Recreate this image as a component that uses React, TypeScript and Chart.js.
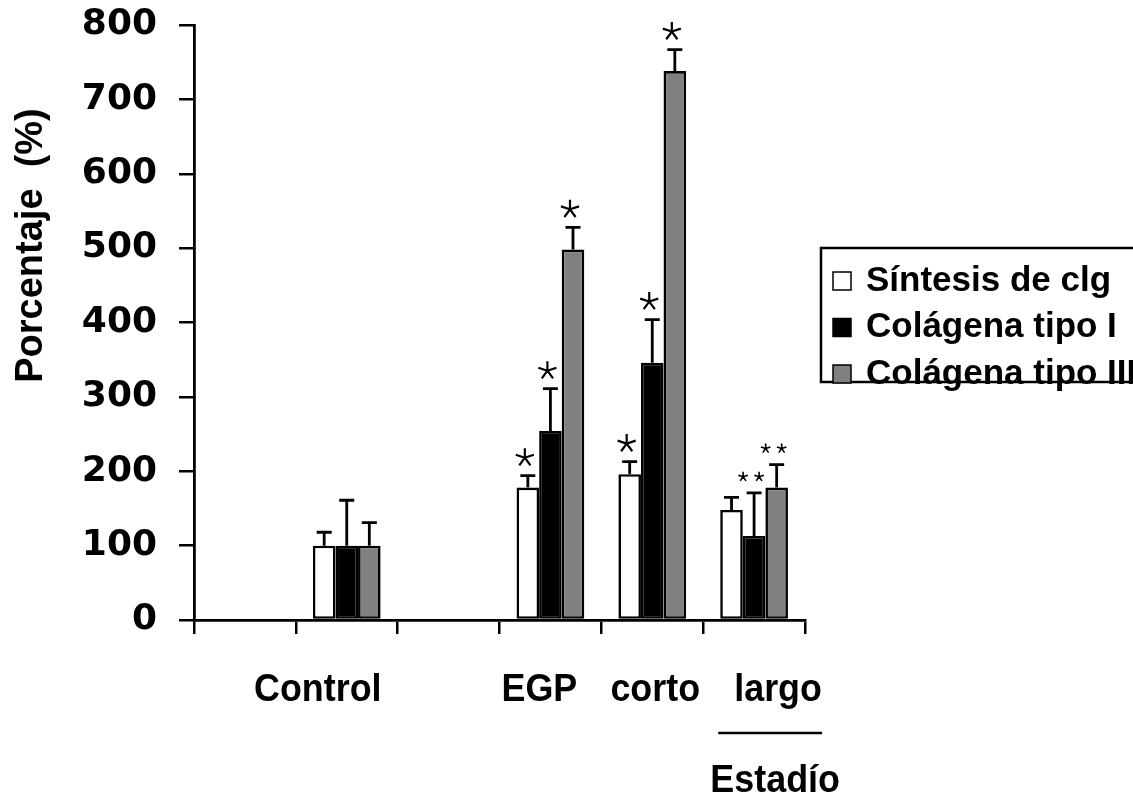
import React, { useEffect, useRef } from "react";
import { Chart, registerables } from "chart.js";

Chart.register(...registerables);

// Groups along the x axis (empty slots keep the spacing of the original layout)
const categories = ["", "Control", "", "EGP", "corto", "largo"];

// Mean values (%) per series
const sintesis = [null, 100, null, 178, 196, 148];
const tipoI = [null, 100, null, 254, 346, 113];
const tipoIII = [null, 100, null, 498, 738, 178];

// Upper error (%) per series
const errSintesis = [null, 18, null, 16, 17, 17];
const errTipoI = [null, 61, null, 57, 58, 58];
const errTipoIII = [null, 31, null, 30, 29, 31];

// Significance marks per series
const sigSintesis = ["", "", "", "*", "*", ""];
const sigTipoI = ["", "", "", "*", "*", "**"];
const sigTipoIII = ["", "", "", "*", "*", "**"];

const seriesNames = ["Síntesis de clg", "Colágena tipo I", "Colágena tipo III"];
const yTicks = [0, 100, 200, 300, 400, 500, 600, 700, 800];

const W = 1133;
const H = 801;
const FILLS = ["#ffffff", "#000000", "#808080"];
const LABEL_FONT = "bold 39px 'Liberation Sans', Arial, sans-serif";
const LABEL_SQUEEZE = 0.92; // slightly condensed axis captions
// horizontal nudges for the group labels under the axis
const labelShift = [0, -29, 0, -11, 3, 24];

function drawAsterisk(ctx: CanvasRenderingContext2D, cx: number, cy: number, r: number, lw: number) {
  ctx.save();
  ctx.strokeStyle = "#000";
  ctx.lineWidth = lw;
  ctx.lineCap = "butt";
  ctx.beginPath();
  for (let k = 0; k < 5; k++) {
    const a = -Math.PI / 2 + (k * 2 * Math.PI) / 5;
    ctx.moveTo(cx, cy);
    ctx.lineTo(cx + r * Math.cos(a), cy + r * Math.sin(a));
  }
  ctx.stroke();
  ctx.restore();
}

function squeezedText(ctx: CanvasRenderingContext2D, text: string, cx: number, cy: number) {
  ctx.save();
  ctx.translate(cx, cy);
  ctx.scale(LABEL_SQUEEZE, 1);
  ctx.font = LABEL_FONT;
  ctx.fillStyle = "#000";
  ctx.textAlign = "center";
  ctx.textBaseline = "middle";
  ctx.fillText(text, 0, 0);
  ctx.restore();
}

const overlayPlugin = {
  id: "overlay",
  afterDatasetsDraw(chart: any) {
    const ctx: CanvasRenderingContext2D = chart.ctx;
    const y = chart.scales.y;
    const x = chart.scales.x;
    const errs = [errSintesis, errTipoI, errTipoIII];
    const sigs = [sigSintesis, sigTipoI, sigTipoIII];

    // error bars (upper only) and significance marks
    chart.data.datasets.forEach((ds: any, i: number) => {
      const meta = chart.getDatasetMeta(i);
      ds.data.forEach((v: number | null, j: number) => {
        if (v == null) return;
        const bar = meta.data[j];
        const e = errs[i][j] || 0;
        const top = y.getPixelForValue(v + e);
        ctx.save();
        ctx.strokeStyle = "#000";
        ctx.lineWidth = 2.8;
        ctx.beginPath();
        ctx.moveTo(bar.x, bar.y);
        ctx.lineTo(bar.x, top);
        ctx.moveTo(bar.x - 7.5, top);
        ctx.lineTo(bar.x + 7.5, top);
        ctx.stroke();
        ctx.restore();

        const s = sigs[i][j];
        if (s === "*") {
          drawAsterisk(ctx, bar.x - 3, top - 18, 9.5, 2.2);
        } else if (s === "**") {
          drawAsterisk(ctx, bar.x - 11, top - 16, 5, 1.6);
          drawAsterisk(ctx, bar.x + 5, top - 16, 5, 1.6);
        }
      });
    });

    // group labels
    categories.forEach((c, j) => {
      if (!c) return;
      squeezedText(ctx, c, x.getPixelForValue(j) + labelShift[j], 690);
    });

    // bracket under the stage groups
    const x0 = x.getPixelForValue(4) + 66;
    const x1 = x.getPixelForValue(5) + 68;
    ctx.save();
    ctx.strokeStyle = "#000";
    ctx.lineWidth = 2.5;
    ctx.beginPath();
    ctx.moveTo(x0, 733);
    ctx.lineTo(x1, 733);
    ctx.stroke();
    ctx.restore();
    squeezedText(ctx, "Estadío", (x0 + x1) / 2 + 5, 781);

    // y axis title
    ctx.save();
    ctx.fillStyle = "#000";
    ctx.textAlign = "center";
    ctx.textBaseline = "middle";
    ctx.translate(32, (chart.chartArea.top + chart.chartArea.bottom) / 2 - 77);
    ctx.rotate(-Math.PI / 2);
    ctx.font = "bold 38px 'Liberation Sans', Arial, sans-serif";
    ctx.fillText("Porcentaje  (%)", 0, 0);
    ctx.restore();

    // legend
    ctx.save();
    ctx.strokeStyle = "#000";
    ctx.lineWidth = 2.5;
    ctx.strokeRect(821, 248, 330, 134);
    ctx.font = "bold 35px 'Liberation Sans', Arial, sans-serif";
    ctx.textAlign = "left";
    ctx.textBaseline = "middle";
    seriesNames.forEach((name, i) => {
      const cy = 281 + i * 46.5;
      ctx.fillStyle = FILLS[i];
      ctx.fillRect(833, cy - 9, 18, 18);
      ctx.lineWidth = 1.5;
      ctx.strokeRect(833, cy - 9, 18, 18);
      ctx.fillStyle = "#000";
      ctx.fillText(name, 866, cy);
    });
    ctx.restore();
  },
};

export default function App() {
  const ref = useRef<HTMLCanvasElement | null>(null);

  useEffect(() => {
    if (!ref.current) return;
    const values = [sintesis, tipoI, tipoIII];
    const chart = new Chart(ref.current, {
      type: "bar",
      data: {
        labels: categories,
        datasets: seriesNames.map((name, i) => ({
          label: name,
          data: values[i],
          backgroundColor: FILLS[i],
          borderColor: "#000",
          borderWidth: 2.6,
          borderSkipped: false,
          categoryPercentage: 0.665,
          barPercentage: 1,
        })),
      },
      options: {
        responsive: false,
        animation: false,
        events: [],
        layout: { padding: { top: 25, right: 328, left: 0, bottom: 0 } },
        plugins: {
          legend: { display: false },
          tooltip: { enabled: false },
          title: { display: false },
        },
        scales: {
          x: {
            type: "category",
            offset: true,
            ticks: { display: false },
            grid: {
              offset: true,
              drawOnChartArea: false,
              drawTicks: true,
              tickLength: 14,
              color: "#000",
              lineWidth: 2.5,
            },
            border: { display: true, color: "#000", width: 2.8 },
            afterFit: (scale: any) => {
              scale.height = H - 620;
              scale.paddingLeft = 0;
              scale.paddingRight = 0;
            },
          },
          y: {
            min: 0,
            max: 800,
            afterBuildTicks: (scale: any) => {
              scale.ticks = yTicks.map((v) => ({ value: v }));
            },
            ticks: {
              color: "#000",
              padding: 22,
              font: { family: "'DejaVu Sans', sans-serif", weight: "bold", size: 36 },
            },
            grid: {
              drawOnChartArea: false,
              drawTicks: true,
              tickLength: 15,
              color: "#000",
              lineWidth: 2.5,
            },
            border: { display: true, color: "#000", width: 2.8 },
            afterFit: (scale: any) => {
              scale.width = 194;
              scale.paddingTop = 0;
              scale.paddingBottom = 0;
            },
          },
        },
      },
      plugins: [overlayPlugin],
    });
    return () => chart.destroy();
  }, []);

  return (
    <div style={{ position: "fixed", left: 0, top: 0, width: W, height: H, background: "#fff" }}>
      <canvas ref={ref} width={W} height={H} style={{ width: W, height: H, display: "block" }} />
    </div>
  );
}
